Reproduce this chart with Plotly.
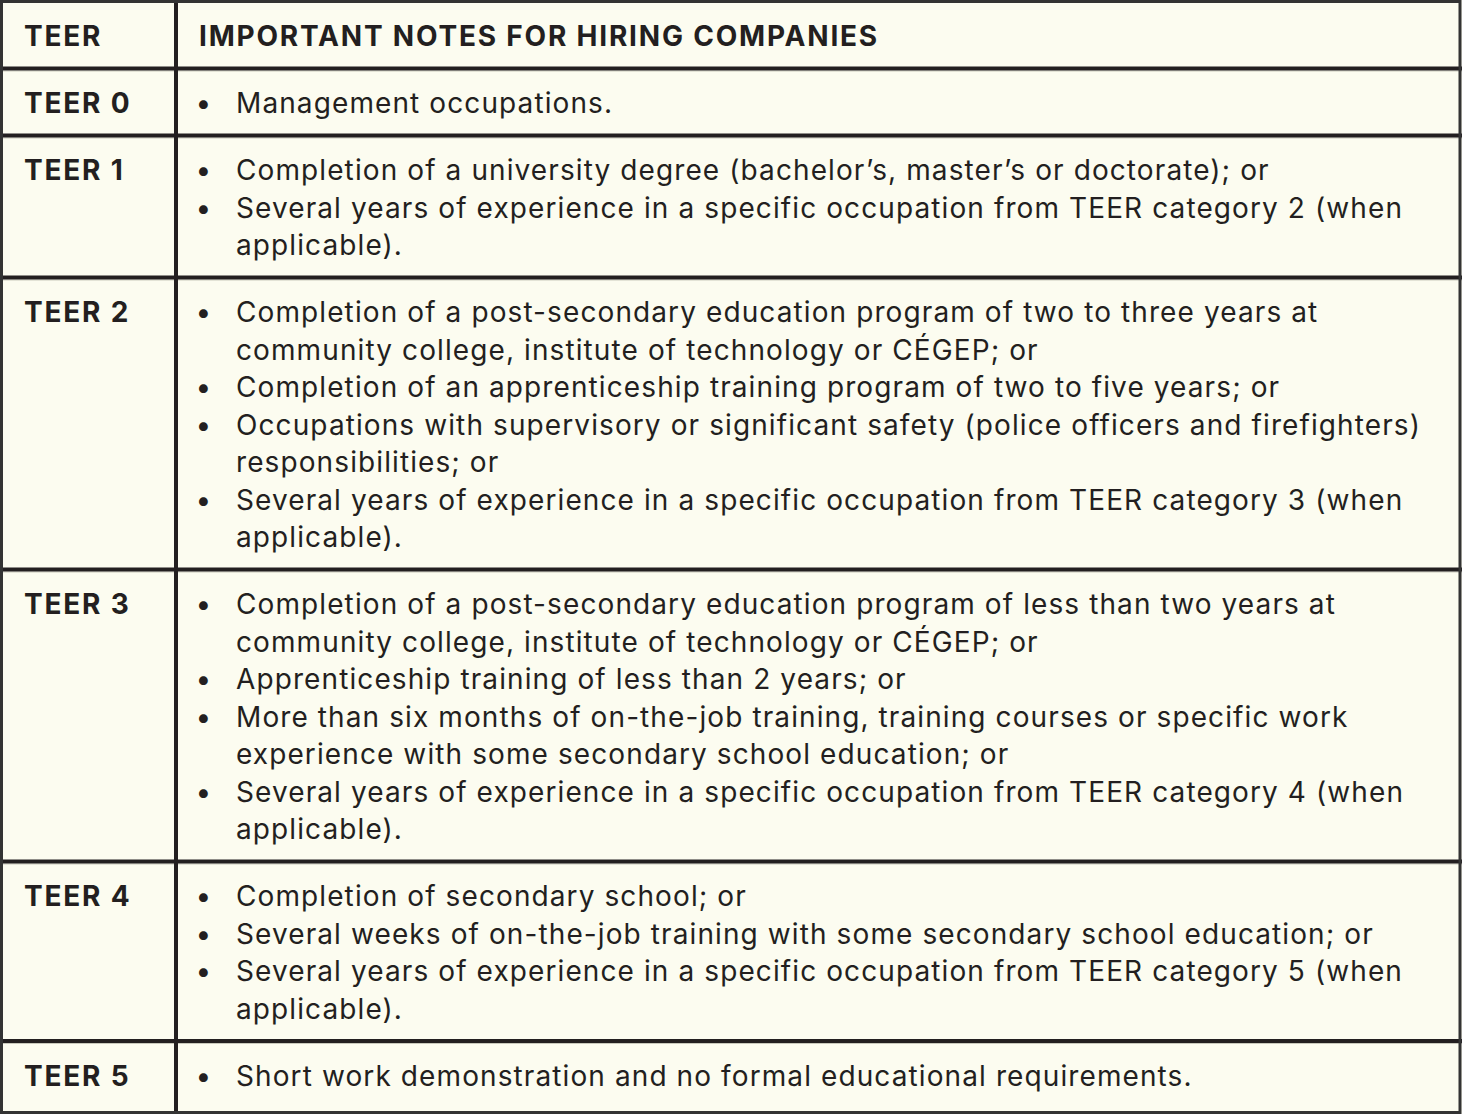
import plotly.graph_objects as go

# table content
header_tier = "TEER"
header_notes = "IMPORTANT NOTES FOR HIRING COMPANIES"

teer_labels = ["TEER 0", "TEER 1", "TEER 2", "TEER 3", "TEER 4", "TEER 5"]

# each TEER -> list of bullets, each bullet -> its wrapped lines
teer_notes = [
    [["Management occupations."]],
    [["Completion of a university degree (bachelor\u2019s, master\u2019s or doctorate); or"],
     ["Several years of experience in a specific occupation from TEER category 2 (when",
      "applicable)."]],
    [["Completion of a post-secondary education program of two to three years at",
      "community college, institute of technology or C\u00c9GEP; or"],
     ["Completion of an apprenticeship training program of two to five years; or"],
     ["Occupations with supervisory or significant safety (police officers and firefighters)",
      "responsibilities; or"],
     ["Several years of experience in a specific occupation from TEER category 3 (when",
      "applicable)."]],
    [["Completion of a post-secondary education program of less than two years at",
      "community college, institute of technology or C\u00c9GEP; or"],
     ["Apprenticeship training of less than 2 years; or"],
     ["More than six months of on-the-job training, training courses or specific work",
      "experience with some secondary school education; or"],
     ["Several years of experience in a specific occupation from TEER category 4 (when",
      "applicable)."]],
    [["Completion of secondary school; or"],
     ["Several weeks of on-the-job training with some secondary school education; or"],
     ["Several years of experience in a specific occupation from TEER category 5 (when",
      "applicable)."]],
    [["Short work demonstration and no formal educational requirements."]],
]

W, H = 1462, 1114
BG = "#FCFCF0"
INK = "#231F20"
FONT = "Inter"
SIZE = 28
LINE_H = 37.5
ROW_PAD = 29.5
TOP = 1.5
BOTTOM = 1112.5
COL_X = 176
LABEL_X = 24
BULLET_X = 204
TEXT_X = 236

fig = go.Figure()
annotations = []
shapes = []


def add_text(x, y, txt, bold=False, anchor="left"):
    annotations.append(dict(
        x=x, y=y, xref="x", yref="y", text=f"<b>{txt}</b>" if bold else txt,
        showarrow=False, xanchor=anchor, yanchor="middle", align=anchor,
        borderpad=0, borderwidth=0,
        font=dict(family=FONT, size=SIZE, color=INK),
    ))


# header row
y = TOP
add_text(LABEL_X, y + 34.5, header_tier, bold=True)
add_text(TEXT_X - 37, y + 34.5, header_notes, bold=True)
y += ROW_PAD + LINE_H
boundaries = [y]

for i, (label, bullets) in enumerate(zip(teer_labels, teer_notes)):
    add_text(LABEL_X, y + 34.5, label, bold=True)
    k = 0
    for bullet in bullets:
        add_text(BULLET_X, y + 34.5 + k * LINE_H, "\u2022", anchor="center")
        for line in bullet:
            add_text(TEXT_X, y + 34.5 + k * LINE_H, line)
            k += 1
    y += ROW_PAD + k * LINE_H
    if i < len(teer_labels) - 1:
        boundaries.append(y)

# horizontal row separators (with the faint shadow under each)
for b in boundaries:
    shapes.append(dict(type="line", xref="x", yref="y", x0=0, x1=W, y0=b + 2.5, y1=b + 2.5,
                       line=dict(color="#C9C9BC", width=1)))
    shapes.append(dict(type="line", xref="x", yref="y", x0=0, x1=W, y0=b, y1=b,
                       line=dict(color=INK, width=4)))

# column separator
shapes.append(dict(type="line", xref="x", yref="y", x0=COL_X, x1=COL_X, y0=0, y1=H,
                   line=dict(color=INK, width=4)))
# outer frame
shapes.append(dict(type="rect", xref="x", yref="y", x0=1.5, x1=1460, y0=TOP, y1=BOTTOM,
                   line=dict(color="#333333", width=3)))

fig.update_layout(
    width=W, height=H,
    margin=dict(l=0, r=0, t=0, b=0),
    paper_bgcolor=BG, plot_bgcolor=BG,
    xaxis=dict(range=[0, W], visible=False, fixedrange=True),
    yaxis=dict(range=[H, 0], visible=False, fixedrange=True),
    annotations=annotations,
    shapes=shapes,
    showlegend=False,
)

# drop the page margin and widen the tracking a bit (the original face is a wide geometric sans)
css = ("body{margin:0;overflow:hidden}"
       ".annotation-text{letter-spacing:1.1px}"
       ".annotation-text [style*='bold']{letter-spacing:1.8px}")
post = ("var s=document.createElement('style');s.textContent=\"" + css + "\";"
        "document.head.appendChild(s);")

fig.write_html("out.html", config={"displayModeBar": False}, post_script=post)
